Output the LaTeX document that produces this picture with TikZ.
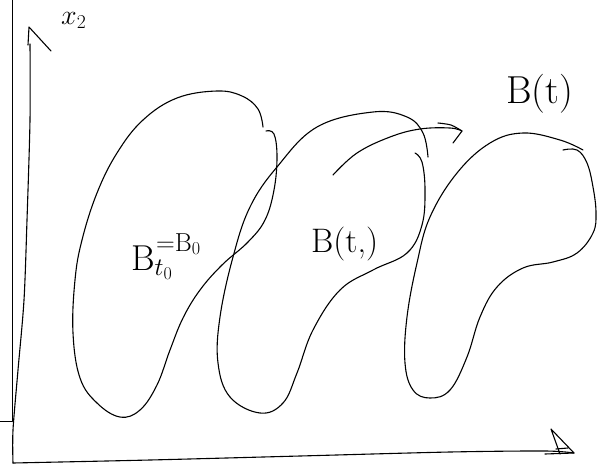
\RequirePackage{fix-cm}
\documentclass[tikz,border=0pt]{standalone}
\usepackage{fontspec}
\begin{document}
\begin{tikzpicture}[
  x=1pt, y=-1pt,
  pen/.style={line width=1.1pt, line cap=round, line join=round},
  blob/.style={pen, smooth, tension=0.65},
  lbl/.style={inner sep=0pt, anchor=base west}
]
\useasboundingbox (0,0) rectangle (606,464);
\draw[pen, line width=1pt] (12.5,0) -- (12.5,421) -- (0,421);
% axes
\draw[pen] plot[smooth, tension=0.5] coordinates {(13,463) (13,430) (18,370) (24,300) (27,220) (30,120) (30,44)};
\draw[pen] (28,45) -- (29,27) -- (51,51);
\draw[pen] plot[smooth, tension=0.5] coordinates {(13,463) (150,460) (300,456) (450,452) (545,451) (574,453)};
\draw[pen] (545,454) -- (574,453) -- (551,429) -- (560,454);
\draw[pen] (556,449) -- (568,448);
\node[lbl] (x2) at (61,24) {\fontsize{28}{28}\selectfont $x_2$};
% B_{t_0}
\draw[blob] plot coordinates {(266,131) (274,134) (277,157) (274,190) (265,220) (248,242) (222,265) (200,290) (183,318) (170,350) (157,385) (140,410) (120,417) (97,403) (80,378) (73,333) (75,280) (82,240) (97,193) (117,153) (143,120) (177,98) (217,91) (242,96) (258,109) (263,127)};
% B(t_1)
\draw[blob] plot coordinates {(415,153) (422,162) (425,190) (422,225) (407,253) (373,270) (340,290) (313,330) (297,373) (283,403) (260,413) (230,397) (218,363) (220,317) (233,257) (250,207) (277,167) (317,127) (373,112) (407,117) (423,133) (428,157)};
% B(t)
\draw[blob] plot coordinates {(563,150) (577,150) (587,163) (593,187) (596,213) (593,233) (577,253) (553,262) (523,268) (497,287) (480,317) (467,357) (450,390) (430,398) (413,390) (405,363) (407,317) (417,263) (430,217) (457,173) (490,143) (523,133) (560,140) (583,150)};
% flow arrow
\draw[blob] plot coordinates {(333,175) (357,153) (390,137) (420,129) (450,128) (462,131)};
\draw[pen] plot[smooth] coordinates {(438,123) (451,125) (462,131)} -- (453,143);
\node[lbl] (Bt0) at (131,270) {\fontsize{36}{36}\selectfont $\mathrm{B}_{t_0}$};
\node[lbl] (B0) at (156,251) {\fontsize{26}{26}\selectfont ${=}\mathrm{B}_0$};
\node[lbl] (Bt1) at (311,252) {\fontsize{34}{34}\selectfont B(t,)};
\node[lbl] (Bt) at (506,103) {\fontsize{39}{39}\selectfont B(t)};
\end{tikzpicture}
\end{document}
